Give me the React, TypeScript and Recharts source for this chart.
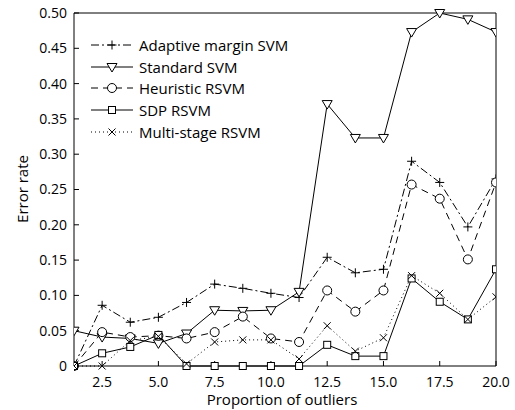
import { LineChart, Line, XAxis, YAxis } from "recharts";

const xs = [1.25, 2.5, 3.75, 5.0, 6.25, 7.5, 8.75, 10.0, 11.25, 12.5, 13.75, 15.0, 16.25, 17.5, 18.75, 20.0];
const adaptive = [0, 0.086, 0.062, 0.069, 0.09, 0.116, 0.11, 0.103, 0.097, 0.154, 0.132, 0.137, 0.29, 0.26, 0.197, 0.265];
const standard = [0.05, 0.041, 0.039, 0.032, 0.046, 0.079, 0.078, 0.079, 0.105, 0.371, 0.323, 0.323, 0.473, 0.5, 0.491, 0.473];
const heuristic = [0, 0.048, 0.041, 0.043, 0.039, 0.048, 0.07, 0.039, 0.034, 0.107, 0.077, 0.107, 0.257, 0.237, 0.151, 0.26];
const sdp = [0, 0.018, 0.027, 0.044, 0, 0, 0, 0, 0, 0.03, 0.014, 0.014, 0.124, 0.091, 0.066, 0.137];
const multi = [0, 0, 0.036, 0.042, 0.003, 0.034, 0.037, 0.037, 0.01, 0.057, 0.021, 0.04, 0.128, 0.103, 0.066, 0.098];

const xTicks = [2.5, 5, 7.5, 10, 12.5, 15, 17.5, 20];
const yTicks = [0, 0.05, 0.1, 0.15, 0.2, 0.25, 0.3, 0.35, 0.4, 0.45, 0.5];

const data = xs.map((x, i) => ({
  x,
  adaptive: adaptive[i],
  standard: standard[i],
  heuristic: heuristic[i],
  sdp: sdp[i],
  multi: multi[i],
}));

const FONT = "'Open Sans', sans-serif";

function Marker({ shape, cx, cy }: any) {
  if (cx == null || cy == null) return null;
  const p = { fill: "none", stroke: "#000", strokeWidth: 1 };
  if (shape === "plus")
    return <path d={`M${cx - 4.5},${cy}H${cx + 4.5}M${cx},${cy - 4.5}V${cy + 4.5}`} {...p} />;
  if (shape === "tri")
    return <path d={`M${cx - 5},${cy - 3.5}H${cx + 5}L${cx},${cy + 5}Z`} {...p} fill="#fff" />;
  if (shape === "circle") return <circle cx={cx} cy={cy} r={4.5} {...p} fill="#fff" />;
  if (shape === "square")
    return <rect x={cx - 3.5} y={cy - 3.5} width={7} height={7} {...p} fill="#fff" />;
  return <path d={`M${cx - 3.5},${cy - 3.5}L${cx + 3.5},${cy + 3.5}M${cx - 3.5},${cy + 3.5}L${cx + 3.5},${cy - 3.5}`} {...p} />;
}

const series = [
  { key: "adaptive", name: "Adaptive margin SVM", dash: "8 3 2 3", shape: "plus" },
  { key: "standard", name: "Standard SVM", dash: undefined, shape: "tri" },
  { key: "heuristic", name: "Heuristic RSVM", dash: "7 5", shape: "circle" },
  { key: "sdp", name: "SDP RSVM", dash: undefined, shape: "square" },
  { key: "multi", name: "Multi-stage RSVM", dash: "1 3", shape: "x" },
];

function LegendBox() {
  return (
    <div style={{ position: "absolute", left: 89, top: 34, fontFamily: FONT, fontSize: 15, color: "#000" }}>
      {series.map((s) => (
        <div key={s.key} style={{ display: "flex", alignItems: "center", height: 21.8 }}>
          <svg width={46} height={20}>
            <line x1={2} y1={10} x2={44} y2={10} stroke="#000" strokeDasharray={s.dash} />
            <Marker shape={s.shape} cx={23} cy={10} />
          </svg>
          <span style={{ marginLeft: 4, whiteSpace: "nowrap" }}>{s.name}</span>
        </div>
      ))}
    </div>
  );
}

export default function App() {
  return (
    <div style={{ width: 515, height: 410, position: "relative" }}>
      <style>{"body{margin:0}"}</style>
      <LineChart width={515} height={410} data={data} margin={{ top: 12, right: 18, bottom: 14, left: 24 }}>
        <XAxis
          dataKey="x"
          type="number"
          domain={[1.25, 20]}
          ticks={xTicks}
          tickFormatter={(v: number) => v.toFixed(1)}
          stroke="#000"
          tickSize={-5}
          tickMargin={16}
          height={30}
          tick={{ fill: "#000", fontSize: 14, fontFamily: FONT }}
          allowDataOverflow
        />
        <XAxis
          xAxisId="top"
          orientation="top"
          dataKey="x"
          type="number"
          domain={[1.25, 20]}
          ticks={xTicks}
          stroke="#000"
          tickSize={-5}
          height={1}
          tick={false}
        />
        <YAxis
          type="number"
          domain={[0, 0.5]}
          ticks={yTicks}
          tickFormatter={(v: number) => (v === 0 ? "0" : v.toFixed(2))}
          stroke="#000"
          tickSize={-5}
          tickMargin={12}
          width={50}
          tick={{ fill: "#000", fontSize: 14, fontFamily: FONT }}
        />
        <YAxis
          yAxisId="right"
          orientation="right"
          type="number"
          domain={[0, 0.5]}
          ticks={yTicks}
          stroke="#000"
          tickSize={-5}
          width={1}
          tick={false}
        />
        <Line
          xAxisId="top"
          yAxisId="right"
          dataKey="standard"
          stroke="none"
          dot={false}
          activeDot={false}
          legendType="none"
          isAnimationActive={false}
        />
        {series.map((s) => (
          <Line
            key={s.key}
            dataKey={s.key}
            name={s.name}
            stroke="#000"
            strokeWidth={1}
            strokeDasharray={s.dash}
            isAnimationActive={false}
            dot={(p: any) => <Marker key={`${s.key}-${p.index}`} shape={s.shape} cx={p.cx} cy={p.cy} />}
            activeDot={false}
          />
        ))}
      </LineChart>
      <LegendBox />
      <div
        style={{
          position: "absolute",
          left: 22,
          top: 189,
          transform: "translate(-50%, -50%) rotate(-90deg)",
          fontFamily: FONT,
          fontSize: 15,
          whiteSpace: "nowrap",
        }}
      >
        Error rate
      </div>
      <div
        style={{
          position: "absolute",
          left: 0,
          width: 564,
          top: 389,
          textAlign: "center",
          fontFamily: FONT,
          fontSize: 15,
        }}
      >
        Proportion of outliers
      </div>
    </div>
  );
}
